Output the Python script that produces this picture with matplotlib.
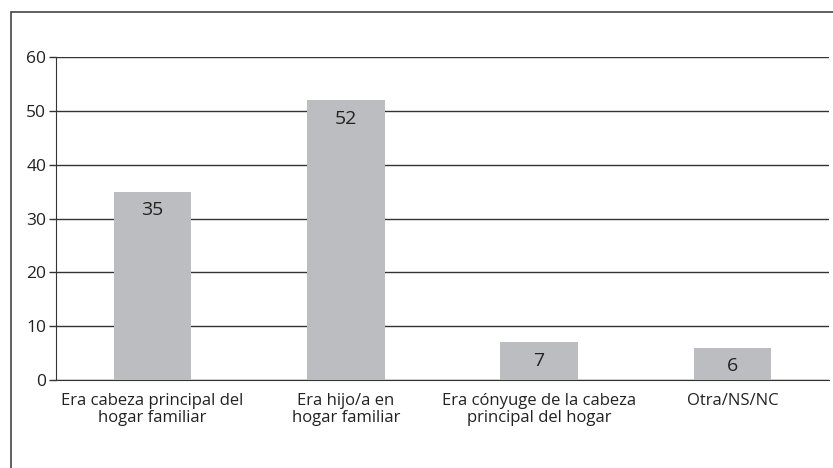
import matplotlib.pyplot as plt
from matplotlib.patches import Rectangle

categories = ["Era cabeza principal del\nhogar familiar",
              "Era hijo/a en\nhogar familiar",
              "Era cónyuge de la cabeza\nprincipal del hogar",
              "Otra/NS/NC"]
values = [35, 52, 7, 6]
yticks = [0, 10, 20, 30, 40, 50, 60]

plt.rcParams['font.family'] = ['Open Sans', 'DejaVu Sans']

fig = plt.figure(figsize=(8.33, 4.68), dpi=100)
ax = fig.add_axes([0.0672, 0.188, 0.928, 0.69])

# outer frame, cut off at right and bottom like the source
fig.patches.append(Rectangle((11 / 833, -0.1), 1.2, 1.1 - 12 / 468, transform=fig.transFigure,
                             fill=False, edgecolor='#444444', linewidth=1.2))

x = range(len(categories))
bars = ax.bar(x, values, width=0.4, color='#bcbdc0', zorder=3)
for b, v in zip(bars, values):
    ax.annotate(str(v), (b.get_x() + b.get_width() / 2, v), xytext=(0, -7),
                textcoords='offset points', ha='center', va='top', fontsize=14, color='#222222', zorder=4)

ax.set_xlim(-0.5, len(categories) - 0.5)
ax.set_ylim(0, 60)
ax.set_yticks(yticks)
ax.tick_params(axis='y', length=5, width=1, color='#333333', labelsize=12.5, labelcolor='#222222', pad=2)
ax.set_xticks(list(x))
ax.set_xticklabels(categories, fontsize=12, color='#222222', linespacing=1.15)
ax.tick_params(axis='x', length=0, pad=9)
ax.grid(axis='y', color='#333333', linewidth=1, zorder=0)
for s in ['top', 'right']:
    ax.spines[s].set_visible(False)
ax.spines['left'].set_color('#333333')
ax.spines['bottom'].set_color('#333333')

fig.savefig('out.png', dpi=100)
